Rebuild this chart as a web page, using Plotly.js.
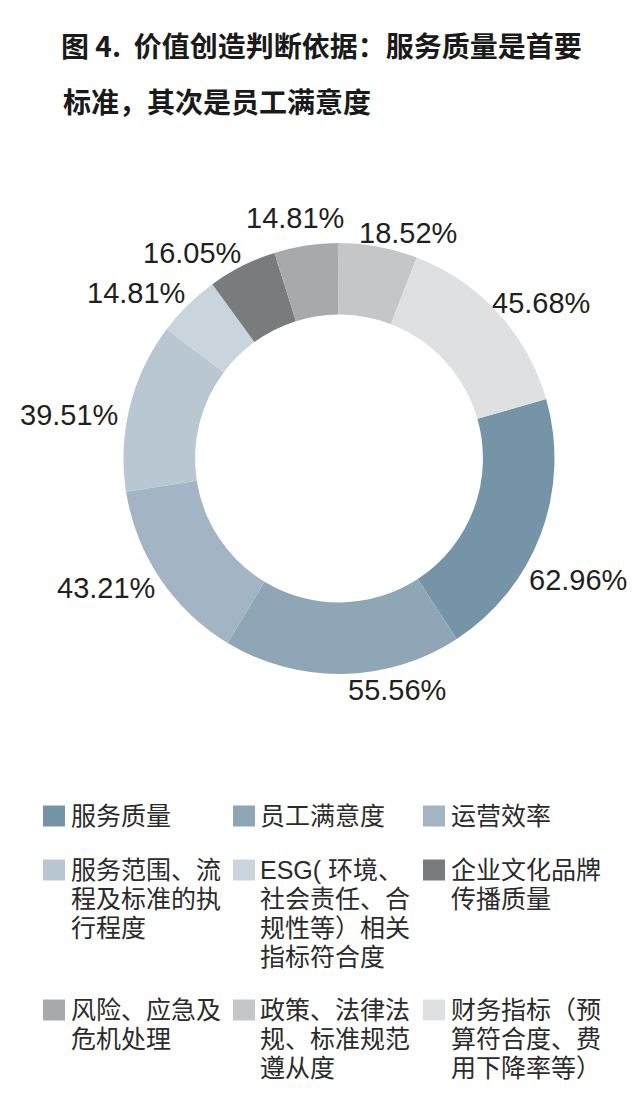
<!DOCTYPE html>
<html>
<head>
<meta charset="utf-8">
<script src="https://cdn.plot.ly/plotly-3.0.1.min.js"></script>
<style>
  html, body { margin: 0; padding: 0; background: #fff; }
  #chart { width: 640px; height: 1114px; }
</style>
</head>
<body>
<div id="chart"></div>
<script>
// chart data
const categories = [
    '服务质量', '员工满意度', '运营效率',
    '服务范围、流程及标准的执行程度', 'ESG（环境、社会责任、合规性等）相关指标符合度', '企业文化品牌传播质量',
    '风险、应急及危机处理', '政策、法律法规、标准规范遵从度', '财务指标（预算符合度、费用下降率等）'
];
const shares = [62.96, 55.56, 43.21, 39.51, 14.81, 16.05, 14.81, 18.52, 45.68];
const sliceColors = [
    '#7694a7', '#8ea6b6', '#a3b5c4',
    '#b8c7d2', '#cad4dc', '#7a7b7d',
    '#a8a9aa', '#c5c6c8', '#dfe0e1'
];
// legend text as it wraps in the figure
const legendLines = [
    ['服务质量'], ['员工满意度'], ['运营效率'],
    ['服务范围、流', '程及标准的执', '行程度'],
    ['ESG( 环境、', '社会责任、合', '规性等）相关', '指标符合度'],
    ['企业文化品牌', '传播质量'],
    ['风险、应急及', '危机处理'],
    ['政策、法律法', '规、标准规范', '遵从度'],
    ['财务指标（预', '算符合度、费', '用下降率等）']
];
const titleLines = ['图 4.&nbsp; 价值创造判断依据：服务质量是首要', '标准，其次是员工满意度'];

const W = 640, H = 1114;
const px = x => x / W;
const py = y => 1 - y / H;
const cjk = '"Noto Sans CJK SC", "Noto Sans", sans-serif';
// latin face first keeps the line box tight; CJK glyphs fall through to Noto
const legendFont = '"Liberation Sans", "Noto Sans CJK SC", sans-serif';

// donut: centre (339, 458.5), outer radius 215.5
const cx = 339, cy = 458.5, R = 215.5;

// where the designer put each percentage label (centre, px)
const labelAt = [
    [578, 580], [397, 690], [106, 588],
    [69, 415], [136, 293], [192, 253],
    [295, 218], [408, 233], [541, 303]
];

const trace = {
    type: 'pie',
    labels: categories,
    values: shares,
    sort: false,
    direction: 'clockwise',
    rotation: 74,
    hole: 0.668,
    marker: { colors: sliceColors, line: { width: 0 } },
    textinfo: 'none',
    domain: { x: [px(cx - R), px(cx + R)], y: [py(cy + R), py(cy - R)] },
    hoverinfo: 'skip',
    showlegend: false
};

const annotations = [];
const shapes = [];

annotations.push({
    text: titleLines[1],
    xref: 'paper', yref: 'paper',
    x: px(61), y: py(101), xanchor: 'left', yanchor: 'middle',
    showarrow: false,
    font: { family: cjk, size: 28, color: '#1a1a1a', weight: 'bold' }
});

// percentage labels outside the ring
shares.forEach((v, k) => {
    annotations.push({
        text: v.toFixed(2) + '%',
        xref: 'paper', yref: 'paper',
        x: px(labelAt[k][0]), y: py(labelAt[k][1]),
        xanchor: 'center', yanchor: 'middle',
        showarrow: false,
        font: { family: 'Liberation Sans, Arial, sans-serif', size: 29, color: '#231f20' }
    });
});

// legend grid, three columns
const colSwatch = [43, 233, 423];
const colText = [70, 259, 450];
const rowTop = [816, 870, 1010];
const lineGap = 29;

categories.forEach((name, k) => {
    const col = k % 3, row = Math.floor(k / 3);
    const y0 = rowTop[row];
    shapes.push({
        type: 'rect', xref: 'paper', yref: 'paper',
        x0: px(colSwatch[col]), x1: px(colSwatch[col] + 22),
        y0: py(y0 - 10.5), y1: py(y0 + 10.5),
        fillcolor: sliceColors[k], line: { width: 0 }
    });
    legendLines[k].forEach((line, j) => {
        annotations.push({
            text: line,
            xref: 'paper', yref: 'paper',
            x: px(colText[col]), y: py(y0 + j * lineGap),
            xanchor: 'left', yanchor: 'middle',
            borderpad: 0,
            showarrow: false,
            font: { family: legendFont, size: 25, color: '#2b2b2b' }
        });
    });
});

const layout = {
    width: W,
    height: H,
    margin: { l: 0, r: 0, t: 0, b: 0 },
    paper_bgcolor: '#ffffff',
    title: {
        text: titleLines[0],
        xref: 'paper', yref: 'paper',
        x: px(61), xanchor: 'left',
        y: py(47), yanchor: 'middle',
        font: { family: cjk, size: 28, color: '#1a1a1a', weight: 'bold' }
    },
    annotations: annotations,
    shapes: shapes,
    showlegend: false
};

Plotly.newPlot('chart', [trace], layout, { displayModeBar: false, staticPlot: true });
</script>
</body>
</html>
